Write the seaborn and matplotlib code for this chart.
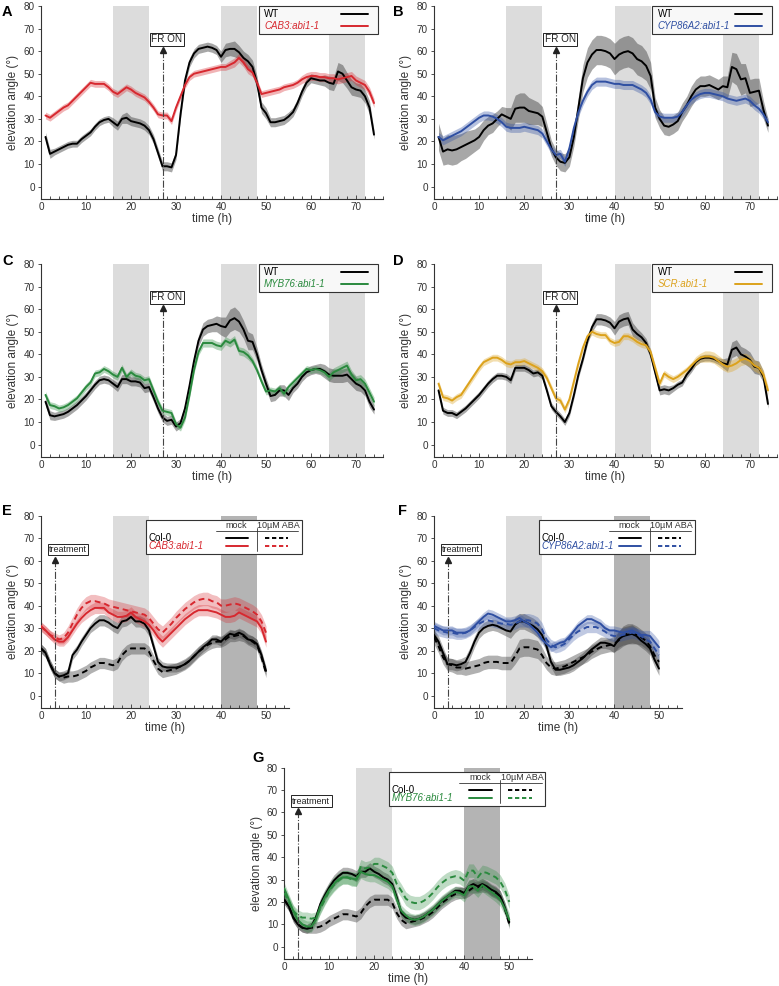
import numpy as np
import matplotlib
matplotlib.use("Agg")
import matplotlib.pyplot as plt
from matplotlib.patches import Rectangle
from matplotlib.ticker import MultipleLocator
import seaborn as sns

sns.set_theme(style="ticks")
plt.rcParams['font.family'] = ['Liberation Sans', 'DejaVu Sans']

# ── data: hourly means and SEM ──────────────────────────────
hours_fr = list(range(1, 75))     # panels A-D
hours_aba = list(range(0, 51))    # panels E-G

A_wt = [22, 14.5, 15.5, 16.5, 17.5, 18.5, 19, 19, 21, 22.5,
        24, 26.5, 28.5, 29.5, 30, 28.5, 27, 30, 30.5, 29,
        28.5, 28, 27, 25, 21, 15, 9, 9, 8.5, 14,
        32, 47, 55, 59, 61, 61.5, 62, 61.5, 60.5, 57.5,
        60.5, 61, 61, 59.5, 57, 55.5, 53, 46, 35, 32.5,
        28.5, 28.5, 29, 29.5, 31, 33, 37, 42, 46, 48,
        47.5, 47, 47, 46, 45.5, 51, 50, 47, 44, 43,
        42.5, 40, 35, 23]
A_wt_sem = [2, 2, 1.5, 1.5, 1.5, 1.5, 1.5, 1.5, 1.5, 1.5,
            1.5, 1.5, 1.5, 1.5, 1.5, 2, 2, 2, 2.5, 2,
            2, 2, 2, 2, 2, 2, 2, 2, 2, 2,
            2, 2, 2, 2, 2, 2, 2, 2, 2, 2.5,
            3, 3, 3.5, 3, 3, 3, 3, 3, 2.5, 2.5,
            2, 2, 2, 2, 2, 2, 2, 2, 2, 2,
            2, 2, 2.5, 3, 3, 4, 4, 3.5, 3.5, 3,
            3, 3, 3, 2]
A_cab = [31.5, 30.5, 32, 33.5, 35, 36, 38, 40, 42, 44,
         46, 45.5, 45.5, 45.5, 44, 42, 41, 42.5, 44, 43,
         41.5, 40.5, 39.5, 37.5, 35, 32, 31.5, 31.5, 29, 35,
         40, 45, 48.5, 50, 50.5, 51, 51.5, 52, 52.5, 53,
         53, 54, 55, 57, 55, 52, 50.5, 46, 41, 41.5,
         42, 42.5, 43, 44, 44.5, 45, 46, 47.5, 48.5, 49,
         49, 48.5, 48.5, 48, 48, 47.5, 48, 48.5, 49, 47,
         46, 45, 42, 37]
A_cab_sem = [1.5, 1.5, 1.5, 1.5, 1.5, 1.5, 1.5, 1.5, 1.5, 1.5,
             1.5, 1.5, 1.5, 1.5, 1.5, 1.5, 1.5, 1.5, 1.5, 1.5,
             1.5, 1.5, 1.5, 1.5, 1.5, 1.5, 1.5, 1.5, 1.5, 1.5,
             1.5, 1.5, 1.5, 1.5, 1.5, 1.5, 1.5, 1.5, 1.5, 1.5,
             1.5, 1.8, 2, 2, 2, 2, 1.8, 1.5, 1.5, 1.5,
             1.5, 1.5, 1.5, 1.5, 1.5, 1.5, 1.5, 1.8, 2, 2,
             2, 2, 2, 2, 2, 2, 2, 2, 2, 2,
             2, 2, 2, 2]

B_wt = [22, 15.5, 16.5, 16, 16.5, 17.5, 18.5, 19.5, 20.5, 22,
        25, 27, 28, 30, 32, 31, 30, 34.5, 35, 35,
        33.5, 33, 32.5, 31, 24, 17, 13, 11, 10.5, 13,
        22, 35, 48, 55, 58.5, 60.5, 60.5, 60, 59, 56.5,
        58.5, 59.5, 60, 59, 56.5, 55.5, 53.5, 49, 35, 30,
        27, 26.5, 27.5, 29, 33, 36, 40, 43, 44.5, 44.5,
        45, 44, 43, 44.5, 44, 53, 52, 47.5, 48, 41.5,
        42, 42.5, 34, 27]
B_wt_sem = [6, 6, 6.5, 6.5, 6.5, 6, 6, 5.5, 5, 5,
            4.5, 4, 4, 3.5, 3.5, 4, 5, 6, 6.5, 6.5,
            6, 5.5, 5, 4.5, 4, 3.5, 3.5, 4, 4, 4,
            4, 5, 6, 6.5, 6.5, 6.5, 6.5, 6.5, 6.5, 7,
            7, 7, 7, 7, 7, 7, 6.5, 6, 4.5, 4,
            4, 4, 4, 4, 4, 4, 4.5, 4.5, 4.5, 4.5,
            4.5, 4.5, 4.5, 4.5, 5, 6.5, 7, 7, 6.5, 6,
            6, 5.5, 4, 3]
B_cyp = [22, 20.5, 21.5, 22.5, 23.5, 24.5, 26, 27.5, 29, 30.5,
         31.5, 31.5, 31, 30, 28.5, 26.5, 26, 26, 26, 26.5,
         26, 25.5, 25, 23.5, 20, 16.5, 14, 14.5, 11, 17,
         26, 33, 38, 42, 45, 46.5, 46.5, 46.5, 46, 45.5,
         45.5, 45, 45, 45, 44, 43, 41.5, 38.5, 33, 31,
         30.5, 30.5, 30.5, 31, 33, 36, 38.5, 40, 41, 41.5,
         41.5, 41, 40.5, 40, 39, 38.5, 38, 38.5, 39, 38,
         36, 34.5, 32, 28.5]
B_cyp_sem = [2, 2, 2, 2, 2, 2, 2, 2, 2, 2,
             2, 2, 2, 2, 2, 2, 2, 2, 2, 2,
             2, 2, 2, 2, 2, 2, 2, 2, 2, 2,
             2, 2, 2, 2, 2, 2, 2, 2, 2, 2,
             2, 2, 2, 2, 2, 2, 2, 2, 2, 2,
             2, 2, 2, 2, 2, 2, 2, 2, 2, 2,
             2, 2, 2, 2, 2, 2, 2, 2, 2, 2,
             2, 2, 2, 2]

C_wt = [19, 13, 12.5, 13, 13.5, 14.5, 16, 17.5, 19.5, 21.5,
        24, 26.5, 28.5, 29, 28.5, 27, 25.5, 29, 29, 28,
        28, 27.5, 25, 25.5, 21, 16, 12, 10.5, 11, 8,
        9.5, 16, 26, 37, 46, 51, 52.5, 53, 53.5, 52.5,
        52, 55, 56, 54.5, 51, 46, 45.5, 40, 33, 27,
        21.5, 22, 24, 24, 22, 25, 27, 30, 32, 33,
        33.5, 33.5, 32.5, 31, 30.5, 30.5, 30.5, 31, 29, 27,
        26, 24, 19, 15.5]
C_wt_sem = [2, 2, 1.8, 1.8, 1.8, 1.8, 1.8, 1.8, 1.8, 1.8,
            1.8, 1.8, 1.8, 1.8, 1.8, 1.8, 2, 2, 2, 2,
            2, 2, 2, 2, 2, 2, 2, 2, 2, 2,
            2, 2, 2, 2, 2.5, 3, 3, 3, 3.5, 4,
            4.5, 5, 5, 4.5, 4, 4, 3.5, 3, 2.5, 2.5,
            2.5, 2.5, 2.5, 2.5, 2.5, 2, 2, 2, 2, 2,
            2, 2.5, 3, 3, 3, 3, 3, 3, 3, 3,
            2.5, 2.5, 2.5, 2]
C_myb = [22, 17.5, 17, 16, 16.5, 17.5, 19, 20.5, 23, 25.5,
         27.5, 31.5, 32, 33.5, 32.5, 31, 30, 34, 30, 32,
         30.5, 30, 28.5, 29, 24, 19, 15, 14.5, 14, 9,
         7.5, 12, 22, 33, 41, 45, 45, 45, 44, 43.5,
         46, 45, 46.5, 41.5, 41, 39.5, 37, 33, 28, 23.5,
         24, 23.5, 25, 22.5, 25.5, 27.5, 29.5, 31.5, 33.5, 33,
         33.5, 33, 32, 30, 32, 33, 34, 35, 31, 28.5,
         29, 27, 23, 19]
C_myb_sem = [1.5, 1.5, 1.5, 1.5, 1.5, 1.5, 1.5, 1.5, 1.5, 1.5,
             1.5, 1.5, 1.5, 1.5, 1.5, 1.5, 1.5, 1.5, 1.5, 1.5,
             1.5, 1.5, 1.5, 1.5, 1.5, 1.5, 1.5, 1.5, 1.5, 1.5,
             1.5, 1.5, 1.5, 1.5, 1.5, 1.8, 1.8, 1.8, 1.8, 1.8,
             1.8, 1.8, 1.8, 1.8, 1.8, 1.8, 1.5, 1.5, 1.5, 1.5,
             1.5, 1.5, 1.5, 1.5, 1.5, 1.5, 1.5, 1.5, 1.5, 1.5,
             1.5, 1.5, 1.5, 1.8, 2, 2, 2, 2, 2, 2,
             2, 2, 2, 2]

D_wt = [24, 15, 14, 14, 13, 14.5, 16, 18, 20, 22,
        24.5, 27, 29, 30.5, 30.5, 30, 28.5, 34, 34, 34,
        33, 31.5, 32, 30.5, 24, 17, 14.5, 12.5, 10, 14,
        22, 31, 38, 46, 52, 55.5, 55.5, 55, 54, 51.5,
        54.5, 55.5, 56, 51, 49, 47.5, 45, 40, 32, 24,
        24.5, 24, 25, 26.5, 27.5, 31, 33.5, 36.5, 38, 38.5,
        38.5, 38, 37, 36, 35.5, 42, 43, 40, 39, 37.5,
        34.5, 34, 30, 18]
D_wt_sem = [1.5, 1.5, 1.5, 1.5, 1.5, 1.5, 1.5, 1.5, 1.5, 1.5,
            1.5, 1.5, 1.5, 1.5, 1.5, 1.5, 1.5, 1.5, 1.5, 1.5,
            1.5, 1.5, 1.5, 1.5, 1.5, 1.5, 1.5, 1.5, 1.5, 1.5,
            1.5, 1.5, 1.5, 1.5, 2, 2.5, 2.5, 2.5, 2.5, 3,
            3, 3, 3, 3, 2.5, 2, 2, 2, 2, 2,
            2, 2, 1.5, 1.5, 1.5, 1.5, 1.5, 1.5, 1.5, 1.5,
            1.5, 1.5, 1.5, 2, 3, 3.5, 3.5, 3.5, 3.5, 3.5,
            3, 3, 2.5, 2]
D_scr = [27, 21, 20.5, 19.5, 21, 22, 25, 28, 31, 34,
         36.5, 37.5, 38.5, 38.5, 37.5, 36, 35.5, 36.5, 36.5, 37,
         36, 35, 34, 32.5, 29.5, 25, 20.5, 19.5, 15.5, 20,
         28, 36, 43, 48, 50, 49, 48.5, 48.5, 46, 45,
         45.5, 48, 48, 47, 45.5, 44.5, 44, 41, 34, 27,
         31.5, 30, 29, 30, 31.5, 33, 35, 37, 38.5, 39,
         39, 38.5, 37, 35.5, 34.5, 35, 36, 37.5, 38, 37,
         35, 34, 31, 24]
D_scr_sem = [1.5, 1.5, 1.5, 1.5, 1.5, 1.5, 1.5, 1.5, 1.5, 1.5,
             1.5, 1.5, 1.5, 1.5, 1.5, 1.5, 1.5, 1.5, 1.5, 1.5,
             1.5, 1.5, 1.5, 1.5, 1.5, 1.5, 1.5, 1.5, 1.5, 1.5,
             1.5, 1.5, 1.5, 1.5, 1.5, 1.5, 1.5, 1.5, 1.5, 1.5,
             1.5, 1.5, 1.5, 1.5, 1.5, 1.5, 1.5, 1.5, 1.5, 1.5,
             1.5, 1.5, 1.5, 1.5, 1.5, 1.5, 1.5, 2, 2, 2.5,
             2.5, 2.5, 2.5, 2.5, 2.5, 2.5, 2.5, 2.5, 2.5, 2.5,
             2.5, 2.5, 2, 2]

E_col_mock = [21, 19, 14, 10, 8.5, 9, 10, 18, 20.5, 24,
              27, 30, 32, 33.5, 33.5, 32.5, 31, 30, 33, 33.5,
              35, 33, 33, 32, 29, 22, 15, 13, 12.5, 12.5,
              12.5, 13, 14, 15.5, 17.5, 19.5, 21.5, 23, 25, 25,
              24, 26, 27.5, 27, 28, 27, 25, 24.5, 23, 18,
              11]
E_col_aba = [21, 19, 14, 10, 8.5, 8, 8.5, 8.5, 9, 10,
             11, 12.5, 13.5, 14.5, 14.5, 14, 13.5, 14.5, 18, 20,
             21, 21, 21, 21, 19.5, 15.5, 12, 10.5, 11, 11.5,
             12, 13, 14, 15.5, 17.5, 19.5, 21, 22.5, 23.5, 24,
             24, 25, 26.5, 26.5, 27, 26.5, 25, 24, 22.5, 17,
             10]
E_cab_mock = [31, 29, 27, 25, 24, 24, 26, 29, 32, 34.5,
              36.5, 38, 39, 39, 39, 37, 36, 35, 35, 35.5,
              37, 35, 34, 33, 31.5, 29, 26, 24, 26, 28,
              30, 32, 34, 35.5, 37, 38, 38, 38, 37.5, 37,
              36, 35, 35, 35.5, 37, 36, 35, 34, 33, 30,
              24]
E_cab_aba = [30.5, 29, 27, 26, 25, 25.5, 28, 32, 36, 39,
             41, 42, 42, 41.5, 41, 40, 39.5, 39, 38.5, 38,
             37.5, 37, 36.5, 36, 34.5, 32, 29.5, 28, 30, 32,
             34.5, 36.5, 38.5, 40, 41.5, 42.5, 43, 43, 42, 41.5,
             40, 40, 40.5, 41, 40.5, 39.5, 38.5, 37.5, 36, 33,
             28]
E_col_mock_sem = [2, 2, 2, 2, 2, 2, 2, 2, 2, 2,
                  2, 2, 2.5, 2.5, 2.5, 2.5, 2.5, 2.5, 2.5, 2.5,
                  2.5, 2.5, 2.5, 2.5, 2.5, 2, 2, 2, 2, 2,
                  2, 2, 2, 2, 2, 2, 2, 2, 2, 2,
                  2, 2, 2, 2, 2, 2, 2, 2, 2, 2,
                  2]
E_col_aba_sem = [2, 2, 2, 2, 2, 2.5, 2.5, 2.5, 2.5, 2.5,
                 2.5, 2.5, 2.5, 2.5, 2.5, 2.5, 2.5, 2.5, 2.5, 2.5,
                 2.5, 2.5, 2.5, 2.5, 2.5, 2.5, 2.5, 2.5, 2.5, 2.5,
                 2.5, 2.5, 2.5, 2.5, 2.5, 2.5, 2.5, 2.5, 2.5, 2.5,
                 2.5, 2.5, 2.5, 2.5, 2.5, 2.5, 2.5, 2.5, 2.5, 2.5,
                 2]
E_cab_mock_sem = [2, 2, 2, 2, 2, 2, 2, 2, 2, 2,
                  2.5, 2.5, 2.5, 2.5, 2.5, 2.5, 2.5, 2.5, 2.5, 2.5,
                  2.5, 2.5, 2.5, 2.5, 2.5, 2.5, 2.5, 2.5, 2.5, 2.5,
                  2.5, 2.5, 2.5, 2.5, 2.5, 2.5, 2.5, 2.5, 2.5, 2.5,
                  2.5, 2.5, 2.5, 2.5, 2.5, 2.5, 2.5, 2.5, 2.5, 2.5,
                  2.5]
E_cab_aba_sem = [2, 2, 2, 2, 2, 2.5, 3, 3, 3, 3,
                 3, 3, 3, 3, 3, 3, 3, 3, 3, 3,
                 3, 3, 3, 3, 3, 3, 3, 3, 3, 3,
                 3, 3, 3, 3, 3, 3, 3, 3, 3, 3,
                 3, 3, 3, 3, 3, 3, 3, 3, 3, 3,
                 3]

F_col_mock = [27, 24, 19, 14, 14, 13.5, 14, 15, 19, 24,
              28, 30, 31, 31.5, 31, 30, 29, 28.5, 31.5, 33,
              33, 32, 31, 29.5, 27, 22, 15, 11.5, 11.5, 12,
              12.5, 13.5, 15, 16.5, 18.5, 20.5, 22, 23.5, 23.5, 23,
              22, 25, 26.5, 27, 27.5, 26.5, 24.5, 23, 21, 16,
              12]
F_col_aba = [26, 22, 17, 14, 13.5, 12.5, 12.5, 12, 12.5, 13,
             13.5, 14.5, 15, 15, 15, 14.5, 14.5, 14.5, 17.5, 21,
             21.5, 21.5, 21, 20.5, 18, 14.5, 12.5, 12, 12.5, 13,
             14, 15, 16, 17, 18, 19.5, 20.5, 21.5, 22, 22.5,
             23, 24.5, 26.5, 27.5, 27.5, 27, 26, 24.5, 22, 18,
             15]
F_cyp_mock = [31, 30, 29, 29, 29, 28, 28, 28, 29, 31,
              33, 35, 36.5, 36, 35, 34, 33, 33, 33.5, 34.5,
              33, 32, 30, 28, 25, 23, 21.5, 22.5, 23.5, 24,
              26, 28.5, 31, 32.5, 34, 34, 33, 32, 30, 29,
              29, 28.5, 28, 28.5, 29, 28, 27, 27, 26.5, 24,
              21.5]
F_cyp_aba = [30, 29, 28.5, 28, 28, 27.5, 27.5, 28, 29, 30.5,
             32, 33, 33.5, 33, 32.5, 32, 32, 31.5, 32, 33,
             33.5, 33.5, 33, 32, 29.5, 25, 22.5, 21.5, 22, 23,
             25, 27, 28.5, 29.5, 30.5, 30.5, 30.5, 29.5, 28.5, 27,
             26.5, 26.5, 27, 27.5, 28, 27.5, 26.5, 25, 24, 21,
             18]
F_col_mock_sem = [2.5, 2.5, 2.5, 2.5, 2.5, 2.5, 2.5, 2.5, 2.5, 2.5,
                  2.5, 2.5, 2.5, 2.5, 2.5, 2.5, 2.5, 3, 3.5, 3.5,
                  3.5, 3.5, 3.5, 3.5, 3, 2.5, 2.5, 2.5, 2.5, 2.5,
                  2.5, 2.5, 2.5, 2.5, 2.5, 2.5, 2.5, 2.5, 2.5, 2.5,
                  3, 3.5, 4, 4, 4, 3.5, 3, 3, 3, 3,
                  3]
F_col_aba_sem = [3, 3, 3, 3, 3, 3, 3, 3, 3, 3,
                 3, 3, 3, 3, 3, 3, 3, 3, 3.5, 4,
                 4, 4, 4, 4, 3.5, 3, 3, 3, 3, 3,
                 3, 3, 3, 3, 3, 3, 3, 3, 3, 3,
                 3.5, 4, 4.5, 4.5, 4.5, 4, 3.5, 3.5, 3, 3,
                 3]
F_cyp_mock_sem = [2, 2, 2, 2, 2, 2, 2, 2, 2, 2,
                  2, 2, 2, 2, 2, 2, 2, 2, 2, 2,
                  2, 2, 2, 2, 2, 2, 2, 2, 2, 2,
                  2, 2, 2, 2, 2, 2, 2, 2, 2, 2,
                  2, 2, 2, 2, 2, 2, 2, 2, 2.5, 3,
                  3]
F_cyp_aba_sem = [2.5, 2.5, 2.5, 2.5, 2.5, 2.5, 2.5, 2.5, 2.5, 2.5,
                 2.5, 2.5, 2.5, 2.5, 2.5, 2.5, 2.5, 2.5, 2.5, 2.5,
                 3, 3, 3, 3, 3, 2.5, 2.5, 2.5, 2.5, 2.5,
                 2.5, 2.5, 2.5, 2.5, 2.5, 2.5, 2.5, 2.5, 2.5, 2.5,
                 2.5, 2.5, 2.5, 2.5, 2.5, 2.5, 2.5, 2.5, 2.5, 2.5,
                 2.5]

G_col_mock = [21, 18, 13, 10, 8.5, 8, 9, 13, 19, 23,
              26.5, 29.5, 31.5, 33, 33, 32.5, 31.5, 33.5, 33.5, 35,
              33.5, 32.5, 31, 30, 28, 22, 15, 13, 12.5, 12,
              12.5, 13.5, 15, 16.5, 18.5, 20.5, 22, 23.5, 25, 25,
              24, 27, 28, 27, 28, 27, 25.5, 24.5, 22.5, 17.5,
              11]
G_col_aba = [21, 18, 13, 10, 8.5, 8, 8.5, 8.5, 9, 10,
             11.5, 12.5, 13.5, 14.5, 14.5, 14, 13.5, 15, 18, 20,
             21, 21, 21, 21, 19.5, 15, 12, 10.5, 11, 11.5,
             12, 13, 14, 15.5, 17.5, 19.5, 21, 22.5, 23.5, 24,
             24, 25, 26.5, 26.5, 27, 26.5, 25, 24, 22.5, 17,
             10]
G_myb_mock = [26, 21, 16, 12, 10, 9, 9, 12, 18, 22,
              25.5, 28, 30, 31, 31, 30.5, 30, 33.5, 32.5, 32,
              32, 31, 30, 29, 27, 21, 16, 14, 12.5, 12,
              12.5, 13.5, 15, 16.5, 18.5, 20.5, 22, 23.5, 24.5, 24,
              23, 27, 27, 25, 27.5, 26, 24.5, 23, 21, 17,
              12]
G_myb_aba = [24, 20, 16, 14, 13, 13, 12.5, 13, 17, 21,
             25, 27.5, 29.5, 31, 31, 30, 30, 36, 35, 35.5,
             37, 37, 36, 35, 33, 28, 25, 21.5, 20, 19.5,
             19.5, 20.5, 22, 24, 26.5, 28.5, 30, 31, 31.5, 31,
             29.5, 34, 34, 31, 33.5, 33, 32, 31, 29, 25.5,
             20]
G_col_mock_sem = [2, 2, 2, 2, 2, 2, 2, 2, 2.5, 2.5,
                  2.5, 2.5, 2.5, 2.5, 2.5, 2.5, 2.5, 2.5, 2.5, 2.5,
                  2.5, 2.5, 2.5, 2.5, 2.5, 2.5, 2, 2, 2, 2,
                  2, 2, 2, 2, 2, 2, 2, 2, 2, 2,
                  2.5, 2.5, 2.5, 2.5, 2.5, 2.5, 2.5, 2.5, 2.5, 2.5,
                  2]
G_col_aba_sem = [2, 2, 2, 2, 2, 2, 2.5, 2.5, 2.5, 2.5,
                 2.5, 2.5, 2.5, 2.5, 2.5, 2.5, 2.5, 2.5, 2.5, 2.5,
                 2.5, 2.5, 2.5, 2.5, 2.5, 2.5, 2.5, 2.5, 2.5, 2.5,
                 2.5, 2.5, 2.5, 2.5, 2.5, 2.5, 2.5, 2.5, 2.5, 2.5,
                 2.5, 2.5, 2.5, 2.5, 2.5, 2.5, 2.5, 2.5, 2.5, 2.5,
                 2]
G_myb_mock_sem = [2.5, 2.5, 2.5, 2.5, 2.5, 2.5, 2.5, 2.5, 3, 3,
                  3, 3, 3, 3, 3, 3, 3, 3, 3, 3,
                  3, 3, 3, 3, 3, 3, 2.5, 2.5, 2.5, 2.5,
                  2.5, 2.5, 2.5, 2.5, 2.5, 2.5, 2.5, 2.5, 2.5, 2.5,
                  3, 3, 3, 3, 3, 3, 3, 3, 3, 3,
                  3]
G_myb_aba_sem = [2.5, 2.5, 2.5, 2.5, 2.5, 2.5, 2.5, 2.5, 2.5, 2.5,
                 3, 3, 3, 3, 3, 3, 3, 3, 3, 3,
                 3, 3, 3, 3, 3, 3, 3, 3, 3, 3,
                 3, 3, 3, 3, 3, 3, 3, 3, 3, 3,
                 3, 3, 3, 3, 3, 3, 3, 3, 3, 3,
                 3]

RED = '#d7282f'
BLUE = '#2f4fa2'
GREEN = '#2a8a3e'
GOLD = '#dca21c'
TXT = '#333333'

W, H = 779, 986
fig = plt.figure(figsize=(W / 100, H / 100), dpi=100)


def rect(left, top, right, bottom):
    return [left / W, 1 - bottom / H, (right - left) / W, (bottom - top) / H]


def style_axes(ax, xmax, xticks):
    ax.set_xlim(0, xmax)
    ax.set_ylim(-5.5, 80)
    sns.despine(ax=ax)
    for s in ('left', 'bottom'):
        ax.spines[s].set_linewidth(0.8)
        ax.spines[s].set_color(TXT)
    ax.set_xticks(xticks)
    ax.set_yticks(range(0, 81, 10))
    ax.xaxis.set_minor_locator(MultipleLocator(2))
    ax.tick_params(axis='x', which='major', direction='in', length=3, width=0.6,
                   labelsize=7.2, colors=TXT, pad=2)
    ax.tick_params(axis='x', which='minor', direction='in', length=2, width=0.6, colors=TXT)
    ax.tick_params(axis='y', direction='out', length=2.5, width=0.6,
                   labelsize=7.2, colors=TXT, pad=2)
    ax.set_xlabel('time (h)', fontsize=8.5, color=TXT, labelpad=1)
    ax.set_ylabel('elevation angle (°)', fontsize=8.5, color=TXT, labelpad=3)
    ax.grid(False)


def series(ax, t, m, s, color, ls='-', band=None, alpha=0.35):
    m = np.asarray(m, float)
    s = np.asarray(s, float)
    ax.fill_between(t, m - s, m + s, color=band or color, alpha=alpha, lw=0, zorder=2)
    sns.lineplot(x=t, y=m, ax=ax, color=color, lw=1.4, linestyle=ls, zorder=3)


def marker_line(ax, x, label, y_text, x_text, ha, fs):
    ax.plot([x, x], [-5.5, 59.5], color='#444444', lw=0.8, ls='-.', zorder=4)
    ax.plot([x], [60.5], marker='^', ms=4, color='#222222', zorder=4)
    ax.text(x_text, y_text, label, ha=ha, va='center', fontsize=fs, color='#222222',
            bbox=dict(boxstyle='square,pad=0.15', fc='white', ec='#222222', lw=0.7), zorder=5)


def legend_two(ax, label, color):
    ax.add_patch(Rectangle((0.637, 0.855), 0.348, 0.147, transform=ax.transAxes,
                           fc='#f8f8f8', ec=TXT, lw=0.8, zorder=6, clip_on=False))
    for y, name, c, it in [(0.956, 'WT', 'black', 'normal'), (0.898, label, color, 'italic')]:
        ax.text(0.652, y, name, transform=ax.transAxes, fontsize=7, color=c,
                style=it, va='center', zorder=7)
        ax.plot([0.878, 0.956], [y, y], transform=ax.transAxes, color=c, lw=1.4,
                zorder=7, clip_on=False)


def legend_table(ax, label, color):
    ax.add_patch(Rectangle((0.425, 0.80), 0.628, 0.178, transform=ax.transAxes,
                           fc='white', ec=TXT, lw=0.8, zorder=6, clip_on=False))
    kw = dict(transform=ax.transAxes, zorder=7, clip_on=False)
    ax.text(0.79, 0.948, 'mock', fontsize=6.5, ha='center', va='center', color=TXT, **kw)
    ax.text(0.96, 0.948, '10µM ABA', fontsize=6.5, ha='center', va='center', color=TXT, **kw)
    ax.plot([0.707, 1.04], [0.922, 0.922], color=TXT, lw=0.6, **kw)
    ax.plot([0.871, 0.871], [0.935, 0.815], color=TXT, lw=0.6, **kw)
    for y, name, c, it in [(0.885, 'Col-0', 'black', 'normal'), (0.840, label, color, 'italic')]:
        ax.text(0.435, y, name, fontsize=7, color=c, style=it, va='center', **kw)
        ax.plot([0.748, 0.838], [y, y], color=c, lw=1.4, **kw)
        ax.plot([0.905, 0.999], [y, y], color=c, lw=1.4, ls=(0, (2.2, 1.4)), **kw)


def panel_letter(letter, x_px, top_px):
    fig.text(x_px / W, 1 - top_px / H, letter, fontsize=10.5, fontweight='bold',
             va='top', ha='left', color='black')


# ── panels A-D: far-red time course ─────────────────────────
fr_panels = [
    ('A', (41, 6, 383, 199), (2, 5), A_wt, A_wt_sem, A_cab, A_cab_sem, RED, 'CAB3:abi1-1'),
    ('B', (434, 6, 777, 199), (393, 5), B_wt, B_wt_sem, B_cyp, B_cyp_sem, BLUE, 'CYP86A2:abi1-1'),
    ('C', (41, 264, 383, 457), (2, 254), C_wt, C_wt_sem, C_myb, C_myb_sem, GREEN, 'MYB76:abi1-1'),
    ('D', (434, 264, 777, 457), (393, 254), D_wt, D_wt_sem, D_scr, D_scr_sem, GOLD, 'SCR:abi1-1'),
]
for letter, box, lpos, wt, wt_s, mut, mut_s, col, lab in fr_panels:
    ax = fig.add_axes(rect(*box))
    for a in (16, 40, 64):
        ax.axvspan(a, a + 8, color='#dcdcdc', lw=0, zorder=0)
    series(ax, hours_fr, wt, wt_s, 'black', band='#3c3c3c', alpha=0.45)
    series(ax, hours_fr, mut, mut_s, col, alpha=0.35)
    marker_line(ax, 27, 'FR ON', 65.3, 28, 'center', 7.2)
    style_axes(ax, 76, range(0, 71, 10))
    legend_two(ax, lab, col)
    panel_letter(letter, *lpos)

# ── panels E-G: ABA treatment ───────────────────────────────
aba_panels = [
    ('E', (41, 515.7, 288.5, 708), (2, 504), E_col_mock, E_col_mock_sem, E_col_aba, E_col_aba_sem,
     E_cab_mock, E_cab_mock_sem, E_cab_aba, E_cab_aba_sem, RED, 'CAB3:abi1-1'),
    ('F', (434, 515.7, 681.5, 708), (398, 504), F_col_mock, F_col_mock_sem, F_col_aba, F_col_aba_sem,
     F_cyp_mock, F_cyp_mock_sem, F_cyp_aba, F_cyp_aba_sem, BLUE, 'CYP86A2:abi1-1'),
    ('G', (284.3, 767.7, 531.8, 959), (252, 751), G_col_mock, G_col_mock_sem, G_col_aba, G_col_aba_sem,
     G_myb_mock, G_myb_mock_sem, G_myb_aba, G_myb_aba_sem, GREEN, 'MYB76:abi1-1'),
]
for (letter, box, lpos, cm, cms, ca, cas, mm, mms, ma, mas, col, lab) in aba_panels:
    ax = fig.add_axes(rect(*box))
    ax.axvspan(16, 24, color='#dcdcdc', lw=0, zorder=0)
    ax.axvspan(40, 48, color='#b4b4b4', lw=0, zorder=0)
    series(ax, hours_aba, cm, cms, 'black', band='#3c3c3c', alpha=0.4)
    series(ax, hours_aba, ca, cas, 'black', ls=(0, (3, 2)), band='#3c3c3c', alpha=0.4)
    series(ax, hours_aba, mm, mms, col, alpha=0.3)
    series(ax, hours_aba, ma, mas, col, ls=(0, (3, 2)), alpha=0.3)
    marker_line(ax, 3, 'treatment', 65, 1.8, 'left', 6.5)
    style_axes(ax, 55, range(0, 51, 10))
    legend_table(ax, lab, col)
    panel_letter(letter, *lpos)

fig.savefig('out.png', dpi=100)
